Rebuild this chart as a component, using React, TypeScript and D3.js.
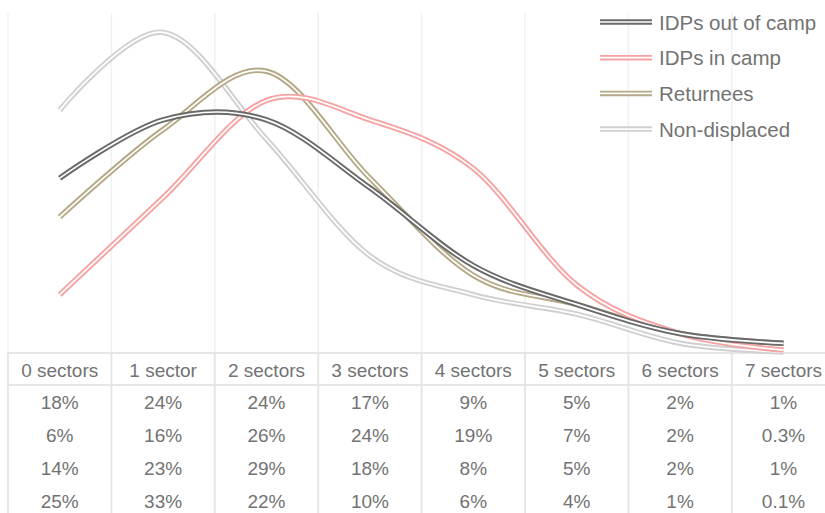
import React, { useEffect, useRef } from 'react';
import * as d3 from 'd3';

const categories = ['0 sectors', '1 sector', '2 sectors', '3 sectors', '4 sectors', '5 sectors', '6 sectors', '7 sectors'];
const seriesNames = ['IDPs out of camp', 'IDPs in camp', 'Returnees', 'Non-displaced'];
const outOfCamp = [18, 24, 24, 17, 9, 5, 2, 1];
const inCamp = [6, 16, 26, 24, 19, 7, 2, 0.3];
const returnees = [14, 23, 29, 18, 8, 5, 2, 1];
const nonDisplaced = [25, 33, 22, 10, 6, 4, 1, 0.1];
const tableLabels = [
  ['18%', '24%', '24%', '17%', '9%', '5%', '2%', '1%'],
  ['6%', '16%', '26%', '24%', '19%', '7%', '2%', '0.3%'],
  ['14%', '23%', '29%', '18%', '8%', '5%', '2%', '1%'],
  ['25%', '33%', '22%', '10%', '6%', '4%', '1%', '0.1%'],
];
const colors = ['#6a6a6a', '#f5a3a3', '#b5a887', '#d0d0d0'];

function App() {
  const svgRef = useRef<SVGSVGElement>(null);

  useEffect(() => {
    if (!svgRef.current) return;
    const width = 825;
    const height = 513;
    const plotTop = 13;
    const plotBottom = 353;
    const headerBottom = 385;
    const rowH = 33;

    const svg = d3.select(svgRef.current);
    svg.selectAll('*').remove();
    svg.attr('width', width).attr('height', height);

    const x = d3.scaleBand().domain(categories).range([8, 8 + 8 * 103.4]).padding(0);
    const y = d3.scaleLinear().domain([0, 35]).range([plotBottom, plotTop]);
    const cx = (c: string) => (x(c) as number) + x.bandwidth() / 2;

    const grid = '#e6e6e6';
    // vertical gridlines / table column borders
    categories.forEach(c => {
      svg.append('line')
        .attr('x1', x(c) as number).attr('x2', x(c) as number)
        .attr('y1', plotTop).attr('y2', plotBottom)
        .attr('stroke', '#f0f0f0').attr('stroke-width', 1.5);
      svg.append('line')
        .attr('x1', x(c) as number).attr('x2', x(c) as number)
        .attr('y1', plotBottom).attr('y2', height)
        .attr('stroke', grid).attr('stroke-width', 2);
    });
    svg.append('line').attr('x1', 8).attr('x2', width).attr('y1', plotBottom).attr('y2', plotBottom)
      .attr('stroke', grid).attr('stroke-width', 2);
    svg.append('line').attr('x1', 8).attr('x2', width).attr('y1', headerBottom).attr('y2', headerBottom)
      .attr('stroke', grid).attr('stroke-width', 2);

    const font = 'Liberation Sans, Arial, sans-serif';
    const textColor = '#737373';

    // header
    categories.forEach(c => {
      svg.append('text')
        .attr('x', cx(c)).attr('y', 377)
        .attr('text-anchor', 'middle')
        .attr('font-family', font).attr('font-size', 19)
        .attr('fill', textColor)
        .text(c);
    });
    tableLabels.forEach((row, i) => {
      row.forEach((t, j) => {
        svg.append('text')
          .attr('x', cx(categories[j])).attr('y', 409 + i * rowH)
          .attr('text-anchor', 'middle')
          .attr('font-family', font).attr('font-size', 19)
          .attr('fill', textColor)
          .text(t);
      });
    });

    const allSeries = [outOfCamp, inCamp, returnees, nonDisplaced];
    const line = d3.line<number>()
      .x((_, i) => cx(categories[i]))
      .y(d => y(d))
      .curve(d3.curveCardinal.tension(0));

    // draw in reverse so out-of-camp on top
    [3, 2, 1, 0].forEach(i => {
      const g = svg.append('g');
      g.append('path').attr('d', line(allSeries[i]))
        .attr('fill', 'none').attr('stroke', colors[i]).attr('stroke-width', 5.5);
      g.append('path').attr('d', line(allSeries[i]))
        .attr('fill', 'none').attr('stroke', '#fff').attr('stroke-width', 1.7);
    });

    // legend
    seriesNames.forEach((name, i) => {
      const ly = 22 + i * 35.7;
      svg.append('line').attr('x1', 600).attr('x2', 652).attr('y1', ly).attr('y2', ly)
        .attr('stroke', colors[i]).attr('stroke-width', 5.5);
      svg.append('line').attr('x1', 600).attr('x2', 652).attr('y1', ly).attr('y2', ly)
        .attr('stroke', '#fff').attr('stroke-width', 1.7);
      svg.append('text')
        .attr('x', 659).attr('y', ly + 7.5)
        .attr('font-family', font).attr('font-size', 20.5)
        .attr('fill', textColor)
        .text(name);
    });
  }, []);

  return (
    <svg ref={svgRef} style={{ position: 'absolute', left: 0, top: 0, background: '#fff' }}></svg>
  );
}

export default App;
